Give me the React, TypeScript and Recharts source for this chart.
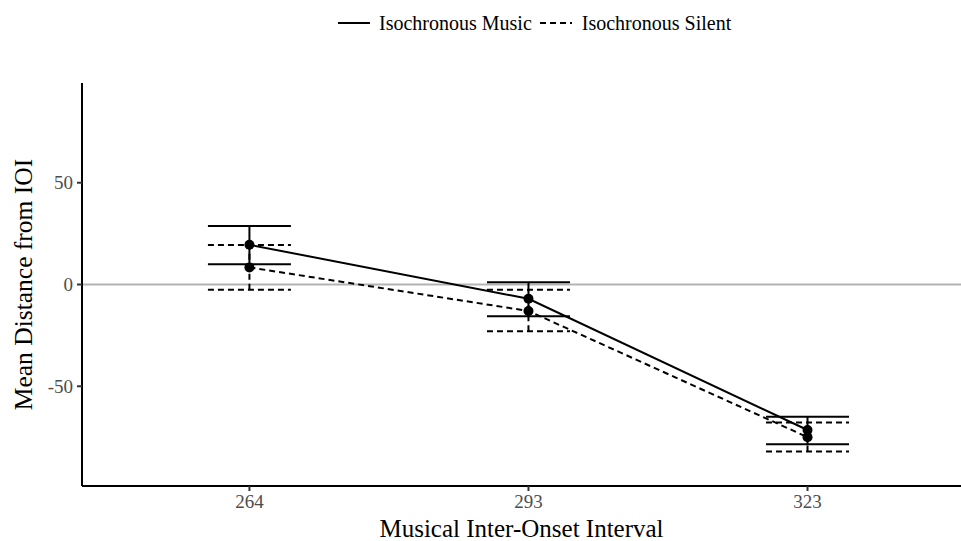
import { LineChart, Line, XAxis, YAxis, ReferenceLine, ErrorBar } from "recharts";

const CATEGORIES = ["264", "293", "323"];
const MUSIC_MEAN = [19.5, -7, -71.5];
const MUSIC_LOW = [10, -15.6, -78.5];
const MUSIC_HIGH = [28.7, 1.1, -65];
const SILENT_MEAN = [8.4, -13, -75];
const SILENT_LOW = [-2.6, -23, -82];
const SILENT_HIGH = [19.4, -2.6, -67.8];
const Y_TICKS = [-50, 0, 50];

const data = CATEGORIES.map((c, i) => ({
  idx: i,
  music: MUSIC_MEAN[i],
  musicErr: [MUSIC_MEAN[i] - MUSIC_LOW[i], MUSIC_HIGH[i] - MUSIC_MEAN[i]],
  silent: SILENT_MEAN[i],
  silentErr: [SILENT_MEAN[i] - SILENT_LOW[i], SILENT_HIGH[i] - SILENT_MEAN[i]],
}));

const FONT = "'Liberation Serif', 'Times New Roman', serif";
const DASH = "6 4";

function YTitle(props: any) {
  const vb = props.viewBox;
  const cy = vb.y + vb.height / 2;
  return (
    <text x={32} y={cy} transform={`rotate(-90, 32, ${cy})`} textAnchor="middle"
      fontSize={25.5} fill="#000" fontFamily={FONT}>
      Mean Distance from IOI
    </text>
  );
}

function XTitle(props: any) {
  const vb = props.viewBox;
  return (
    <text x={vb.x + vb.width / 2} y={537} textAnchor="middle" fontSize={25} fill="#000" fontFamily={FONT}>
      Musical Inter-Onset Interval
    </text>
  );
}

function LegendBox() {
  return (
    <div style={{ position: "absolute", left: 338, top: 10, display: "flex", alignItems: "center",
      fontFamily: FONT, fontSize: 20, color: "#000", whiteSpace: "nowrap" }}>
      <svg width={34} height={26}><line x1={0} y1={13} x2={32} y2={13} stroke="#000" strokeWidth={2} /></svg>
      <span style={{ marginLeft: 7, marginRight: 8 }}>Isochronous Music</span>
      <svg width={34} height={26}><line x1={0} y1={13} x2={32} y2={13} stroke="#000" strokeWidth={2} strokeDasharray={DASH} /></svg>
      <span style={{ marginLeft: 8 }}>Isochronous Silent</span>
    </div>
  );
}

export default function App() {
  return (
    <div style={{ position: "absolute", left: 0, top: 0, width: 961, height: 541, background: "#fff" }}>
      <LegendBox />
      <LineChart width={961} height={541} data={data} margin={{ top: 83, right: 0, bottom: 0, left: 0 }}
        style={{ fontFamily: FONT }}>
        <XAxis type="number" dataKey="idx" domain={[-0.6, 2.55]} allowDataOverflow ticks={[0, 1, 2]}
          tickFormatter={(v: number) => CATEGORIES[v]} height={55}
          axisLine={{ stroke: "#000", strokeWidth: 2 }} tickLine={{ stroke: "#333", strokeWidth: 2 }}
          tickSize={5} tickMargin={4} tick={{ fontSize: 19, fill: "#4d4d4d", fontFamily: FONT }}
          label={<XTitle />} />
        <YAxis type="number" domain={[-99, 99]} allowDataOverflow ticks={Y_TICKS} width={82}
          axisLine={{ stroke: "#000", strokeWidth: 2 }} tickLine={{ stroke: "#333", strokeWidth: 2 }}
          tickSize={5} tickMargin={4} tick={{ fontSize: 19, fill: "#4d4d4d", fontFamily: FONT }}
          label={<YTitle />} />
        <ReferenceLine y={0} stroke="#b3b3b3" strokeWidth={2} />
        <Line dataKey="music" stroke="#000" strokeWidth={2} isAnimationActive={false}
          dot={{ r: 5, fill: "#000", stroke: "#000", strokeWidth: 0 }} activeDot={false}>
          <ErrorBar dataKey="musicErr" direction="y" width={41.5} stroke="#000" strokeWidth={2}
            isAnimationActive={false} />
        </Line>
        <Line dataKey="silent" stroke="#000" strokeWidth={2} strokeDasharray={DASH} isAnimationActive={false}
          dot={{ r: 5, fill: "#000", stroke: "#000", strokeWidth: 0, strokeDasharray: "0" }} activeDot={false}>
          <ErrorBar dataKey="silentErr" direction="y" width={41.5} stroke="#000" strokeWidth={2}
            strokeDasharray={DASH} isAnimationActive={false} />
        </Line>
      </LineChart>
    </div>
  );
}
